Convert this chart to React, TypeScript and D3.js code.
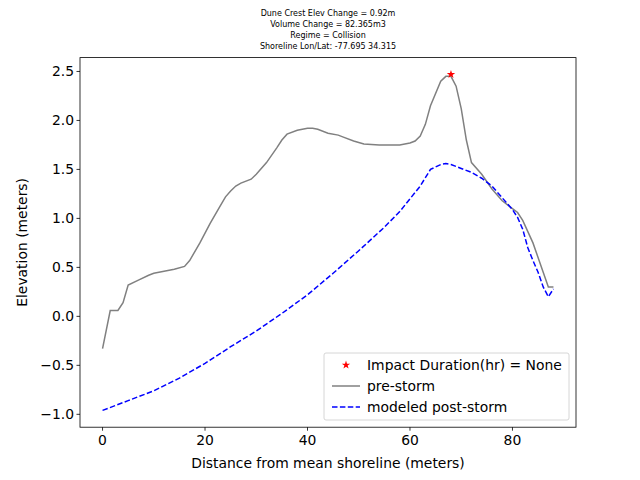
import React from 'react';
import * as d3 from 'd3';

const titleLines = [
  'Dune Crest Elev Change = 0.92m',
  'Volume Change = 82.365m3',
  'Regime = Collision',
  'Shoreline Lon/Lat: -77.695 34.315',
];

const preX = [0, 1.5, 3, 4, 5, 7, 9, 10, 12, 14, 16, 17, 19, 21, 23, 24, 25, 26, 27, 29, 30, 32, 34, 35, 36, 38, 40, 41, 42, 44, 46, 47, 49, 51, 54, 58, 60, 61, 62, 63, 64, 66, 67, 68, 69, 70, 71, 72, 74, 76, 78, 80, 81, 82, 84, 86, 87, 88];
const preY = [-0.33, 0.06, 0.06, 0.14, 0.32, 0.37, 0.42, 0.44, 0.46, 0.48, 0.51, 0.57, 0.75, 0.95, 1.13, 1.22, 1.28, 1.33, 1.36, 1.40, 1.45, 1.57, 1.72, 1.80, 1.86, 1.90, 1.92, 1.92, 1.91, 1.87, 1.85, 1.83, 1.79, 1.76, 1.75, 1.75, 1.77, 1.79, 1.84, 1.96, 2.15, 2.40, 2.45, 2.45, 2.35, 2.12, 1.80, 1.57, 1.45, 1.30, 1.18, 1.10, 1.06, 0.98, 0.75, 0.45, 0.30, 0.30];

const postX = [0, 5, 10, 15, 20, 25, 30, 35, 40, 45, 50, 55, 58, 60, 62, 64, 66, 67, 68, 70, 72, 74, 76, 78, 80, 81, 82, 83, 84, 85, 86, 87, 88];
const postY = [-0.96, -0.86, -0.76, -0.63, -0.48, -0.31, -0.15, 0.03, 0.22, 0.44, 0.67, 0.91, 1.07, 1.20, 1.33, 1.50, 1.55, 1.56, 1.55, 1.51, 1.47, 1.41, 1.33, 1.21, 1.09, 1.01, 0.89, 0.70, 0.57, 0.45, 0.30, 0.20, 0.28];

const crest = { x: 68, y: 2.47 };
const xTicks = [0, 20, 40, 60, 80];
const yTicks = [-1.0, -0.5, 0.0, 0.5, 1.0, 1.5, 2.0, 2.5];

const W = 640, H = 480;
const L = 80, R = 576, T = 57.6, B = 427.2;

export default function App() {
  const x = d3.scaleLinear().domain([-4.4, 92.4]).range([L, R]);
  const y = d3.scaleLinear().domain([-1.1315, 2.6415]).range([B, T]);
  const line = d3.line<[number, number]>().x(d => x(d[0])).y(d => y(d[1]));
  const pre = preX.map((v, i) => [v, preY[i]] as [number, number]);
  const post = postX.map((v, i) => [v, postY[i]] as [number, number]);
  const star = d3.symbol(d3.symbolStar, 22)();
  const font = 'DejaVu Sans, sans-serif';
  const fs = 13.9;
  return (
    <svg width={W} height={H} style={{ position: 'absolute', left: 0, top: 0 }} fontFamily={font}>
      <rect width={W} height={H} fill="white" />
      {titleLines.map((t, i) => (
        <text key={i} x={L + (R - L) / 2} y={16 + i * 11} fontSize={8} textAnchor="middle">{t}</text>
      ))}
      <path d={line(pre)!} fill="none" stroke="gray" strokeWidth={1.5} />
      <path d={line(post)!} fill="none" stroke="blue" strokeWidth={1.5} strokeDasharray="5.5,2.4" />
      <path d={star!} transform={`translate(${x(crest.x)},${y(crest.y)})`} fill="red" />
      <rect x={L} y={T} width={R - L} height={B - T} fill="none" stroke="black" strokeWidth={0.8} />
      {xTicks.map(t => (
        <g key={t} transform={`translate(${x(t)},${B})`}>
          <line y2={3.5} stroke="black" strokeWidth={0.8} />
          <text y={18} fontSize={fs} textAnchor="middle">{t}</text>
        </g>
      ))}
      {yTicks.map(t => (
        <g key={t} transform={`translate(${L},${y(t)})`}>
          <line x2={-3.5} stroke="black" strokeWidth={0.8} />
          <text x={-6} dy="0.35em" fontSize={fs} textAnchor="end">{t < 0 ? '\u2212' + Math.abs(t).toFixed(1) : t.toFixed(1)}</text>
        </g>
      ))}
      <text x={L + (R - L) / 2} y={468} fontSize={fs} textAnchor="middle">Distance from mean shoreline (meters)</text>
      <text transform={`translate(27,${(T + B) / 2}) rotate(-90)`} fontSize={fs} textAnchor="middle">Elevation (meters)</text>
      <g transform="translate(324,353)">
        <rect width={245} height={67} rx={2} fill="white" fillOpacity={0.8} stroke="#ccc" strokeWidth={0.8} />
        <path d={star!} transform="translate(22,12)" fill="red" />
        <text x={43} y={17} fontSize={fs}>Impact Duration(hr) = None</text>
        <line x1={8} x2={36} y1={33} y2={33} stroke="gray" strokeWidth={1.5} />
        <text x={43} y={38} fontSize={fs}>pre-storm</text>
        <line x1={8} x2={36} y1={54} y2={54} stroke="blue" strokeWidth={1.5} strokeDasharray="5.5,2.4" />
        <text x={43} y={59} fontSize={fs}>modeled post-storm</text>
      </g>
    </svg>
  );
}
